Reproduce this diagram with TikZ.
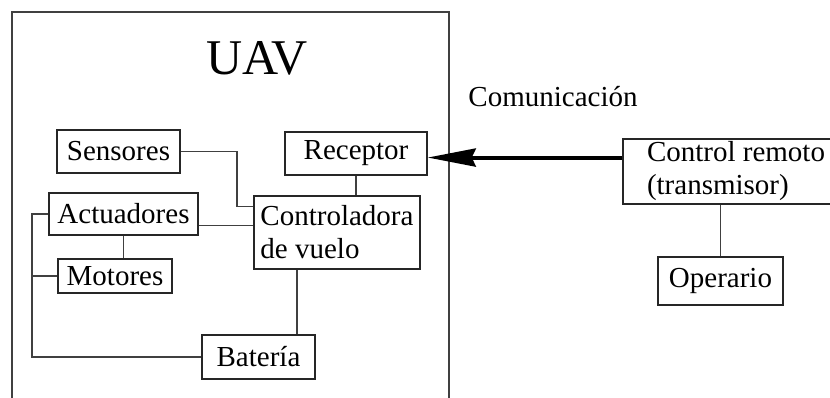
\documentclass[tikz,border=0pt]{standalone}
\usepackage{fontspec}
\setmainfont{Liberation Serif}
\usetikzlibrary{calc,arrows.meta}

\begin{document}
\begin{tikzpicture}[x=1pt,y=-1pt,
    caja/.style={draw=black!85,line width=1.4pt,inner sep=0pt,font=\fontsize{29}{33}\selectfont},
    linea/.style={draw=black!75,line width=1.4pt}]
    \clip (0,0) rectangle (830,398);
    % marco del UAV
    \draw[linea] (12,420) -- (12,12) -- (449,12) -- (449,420);
    \node[font=\fontsize{50}{56}\selectfont] (uav) at (257,58) {UAV};
    \node[font=\fontsize{29}{33}\selectfont] (com) at (553,97) {Comunicación};
    % bloques
    \node[caja,minimum width=123pt,minimum height=43pt] (sen) at (118.5,151.5) {Sensores};
    \node[caja,minimum width=142pt,minimum height=43pt] (rec) at (356,153.5) {Receptor};
    \node[caja,minimum width=149pt,minimum height=42pt] (act) at (123.5,214) {Actuadores};
    \node[caja,minimum width=114pt,minimum height=34pt] (mot) at (115,276) {Motores};
    \node[caja,minimum width=166pt,minimum height=73pt,align=left] (ctrl) at (337,232.5) {Controladora\\de vuelo};
    \node[caja,minimum width=113pt,minimum height=44pt] (bat) at (258.5,357) {Batería};
    \node[caja,minimum width=226pt,minimum height=65pt,align=left] (rc) at (736,171.5) {Control remoto\\(transmisor)};
    \node[caja,minimum width=125pt,minimum height=48pt] (op) at (720.5,281) {Operario};
    % conexiones
    \coordinate (bus) at (32,0);
    \coordinate (s) at ($(ctrl.north west)!0.15!(ctrl.south west)$);
    \coordinate (a) at ($(act.north east)!0.76!(act.south east)$);
    \coordinate (b) at ($(ctrl.south west)!0.26!(ctrl.south east)$);
    \coordinate (p) at ($(rc.north west)!0.29!(rc.south west)$);
    \draw[linea] (sen.east) -- (237,0 |- sen.east) -- (237,0 |- s) -- (s);
    \draw[linea] (a) -- (ctrl.west |- a);
    \draw[linea] (act.south) -- (act.south |- mot.north);
    \draw[linea] (act.west) -- (bus |- act.west) -- (bus |- bat.west) -- (bat.west);
    \draw[linea] (mot.west) -- (bus |- mot.west);
    \draw[linea] (rec.south) -- (rec.south |- ctrl.north);
    \draw[linea] (b) -- (b |- bat.north);
    \draw[linea] (op.north) -- (op.north |- rc.south);
    \draw[line width=4pt,-{Stealth[length=48pt,width=18pt,inset=4pt]}] (p) -- (rec.east |- p);
\end{tikzpicture}
\end{document}
